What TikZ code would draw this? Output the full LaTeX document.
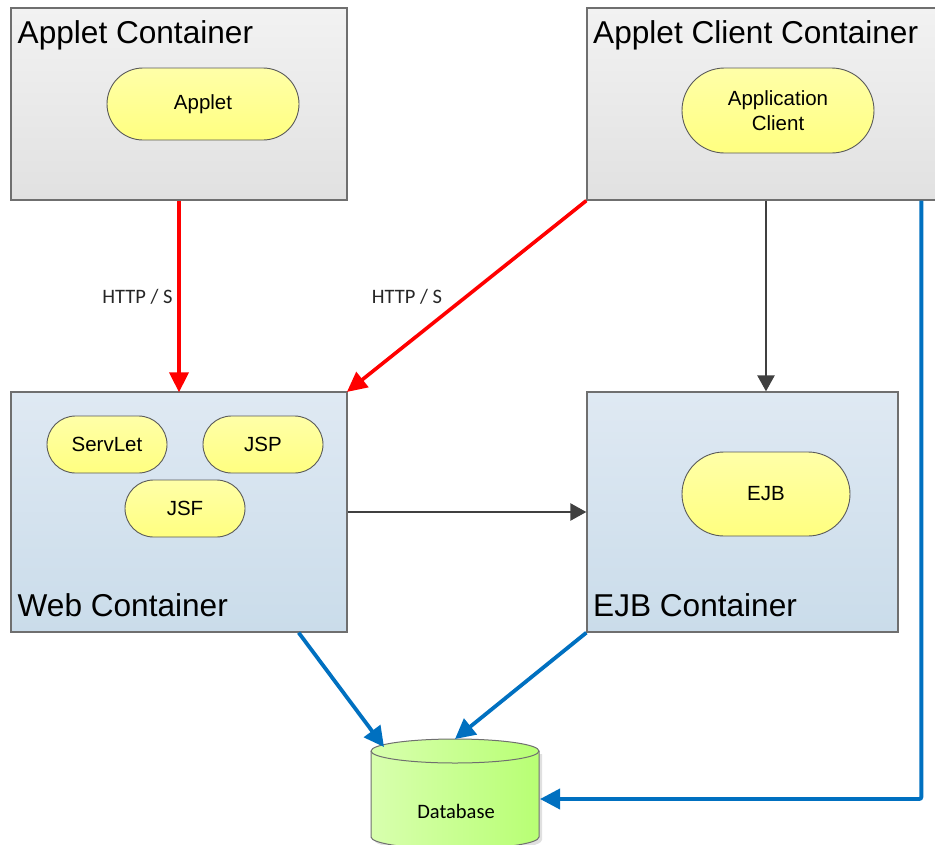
\documentclass[tikz,border=0pt]{standalone}
\usepackage{fontspec}
\setmainfont{Liberation Sans}
\newfontfamily\calibrifont{Carlito}
\usetikzlibrary{arrows.meta,shapes.misc}
\definecolor{gtop}{HTML}{F2F2F2}
\definecolor{gbot}{HTML}{E1E1E1}
\definecolor{btop}{HTML}{DFE9F3}
\definecolor{bbot}{HTML}{CADCEA}
\definecolor{ytop}{HTML}{FFFFA8}
\definecolor{ybot}{HTML}{FFFF80}
\definecolor{boxline}{HTML}{6F6F6F}
\definecolor{pillline}{HTML}{5A5A5A}
\definecolor{dbleftc}{HTML}{D8FFAE}
\definecolor{dbrightc}{HTML}{B8FF74}
\definecolor{arrred}{HTML}{FF0000}
\definecolor{arrgray}{HTML}{404040}
\definecolor{arrblue}{HTML}{0070C0}
\begin{document}
\begin{tikzpicture}[x=1pt,y=-1pt,
  graybox/.style={rectangle, draw=boxline, line width=1.3pt, top color=gtop, bottom color=gbot, inner sep=0pt},
  bluebox/.style={rectangle, draw=boxline, line width=1.3pt, top color=btop, bottom color=bbot, inner sep=0pt},
  pill/.style={rounded rectangle, draw=pillline, line width=0.9pt, top color=ytop, bottom color=ybot, inner sep=0pt, align=center, font=\fontsize{20.5}{25}\selectfont},
  boxtitle/.style={anchor=base west, inner sep=0pt, font=\fontsize{31.6}{36}\selectfont},
  httplabel/.style={inner sep=0pt, font=\calibrifont\fontsize{20.5}{24}\selectfont, text=black!85},
  redarr/.style={draw=arrred, line width=3.6pt, -{Triangle[length=20pt,width=19pt]}, shorten >=-1pt},
  grayarr/.style={draw=arrgray, line width=2.5pt, -{Triangle[length=16pt,width=17pt]}},
  bluearr/.style={draw=arrblue, line width=3.8pt, -{Triangle[length=20pt,width=20pt]}}
]
\useasboundingbox (0,0) rectangle (935,844);
\clip (0,0) rectangle (935,844);

% containers
\node[graybox, minimum width=336pt, minimum height=192pt] (ac) at (179,104) {};
\node[graybox, minimum width=363pt, minimum height=192pt] (acc) at (768.5,104) {};
\node[bluebox, minimum width=336pt, minimum height=240pt] (web) at (179,512) {};
\node[bluebox, minimum width=311pt, minimum height=240pt] (ejb) at (742.5,512) {};

\node[boxtitle] (actitle) at (17.5,43) {Applet Container};
\node[boxtitle] (acctitle) at (593,43) {Applet Client Container};
\node[boxtitle] (webtitle) at (17.5,616) {Web Container};
\node[boxtitle] (ejbtitle) at (593,616) {EJB Container};

% components
\node[pill, minimum width=192pt, minimum height=72pt] (applet) at (203,104) {Applet};
\node[pill, minimum width=192pt, minimum height=85pt] (appclient) at (778,110.5) {Application\\Client};
\node[pill, minimum width=120pt, minimum height=57pt] (servlet) at (107,444.5) {ServLet};
\node[pill, minimum width=120pt, minimum height=57pt] (jsp) at (263,444.5) {JSP};
\node[pill, minimum width=120pt, minimum height=57pt] (jsf) at (185,508.5) {JSF};
\node[pill, minimum width=168pt, minimum height=84pt] (ejbpill) at (766,494) {EJB};

% database
\path[fill=black, opacity=0.12] (374,754) -- (374,840) .. controls (374,846.6) and (411.6,852) .. (458,852) .. controls (504.4,852) and (542,846.6) .. (542,840) -- (542,754) -- cycle;
\path[left color=dbleftc, right color=dbrightc, draw=boxline, line width=1pt]
  (371,751) -- (371,837) .. controls (371,843.6) and (408.6,849) .. (455,849)
  .. controls (501.4,849) and (539,843.6) .. (539,837) -- (539,751)
  .. controls (539,744.4) and (501.4,739) .. (455,739)
  .. controls (408.6,739) and (371,744.4) .. (371,751) -- cycle;
\draw[boxline, line width=1pt] (371,751) .. controls (371,757.6) and (408.6,763) .. (455,763)
  .. controls (501.4,763) and (539,757.6) .. (539,751);
\node[inner sep=0pt, font=\calibrifont\fontsize{20.5}{24}\selectfont] (dbtext) at (456,811) {Database};
\coordinate (dbtop) at (455,739);
\coordinate (dbleft) at (384,747);
\coordinate (dbright) at (540,799);

% labels
\node[httplabel] (http1) at (137.5,297) {HTTP / S};
\node[httplabel] (http2) at (407,297) {HTTP / S};

% connectors
\draw[redarr] (ac.south) -- (web.north);
\draw[redarr] (acc.south west) -- (web.north east);
\draw[grayarr] (acc.south -| ejbpill.center) -- (ejb.north -| ejbpill.center);
\draw[grayarr] (web.east) -- (ejb.west);
\draw[bluearr] ([xshift=-49pt]web.south east) -- (dbleft);
\draw[bluearr] (ejb.south west) -- (dbtop);
\draw[bluearr, rounded corners=2pt] ([xshift=335pt]acc.south west) |- (dbright);
\end{tikzpicture}
\end{document}
